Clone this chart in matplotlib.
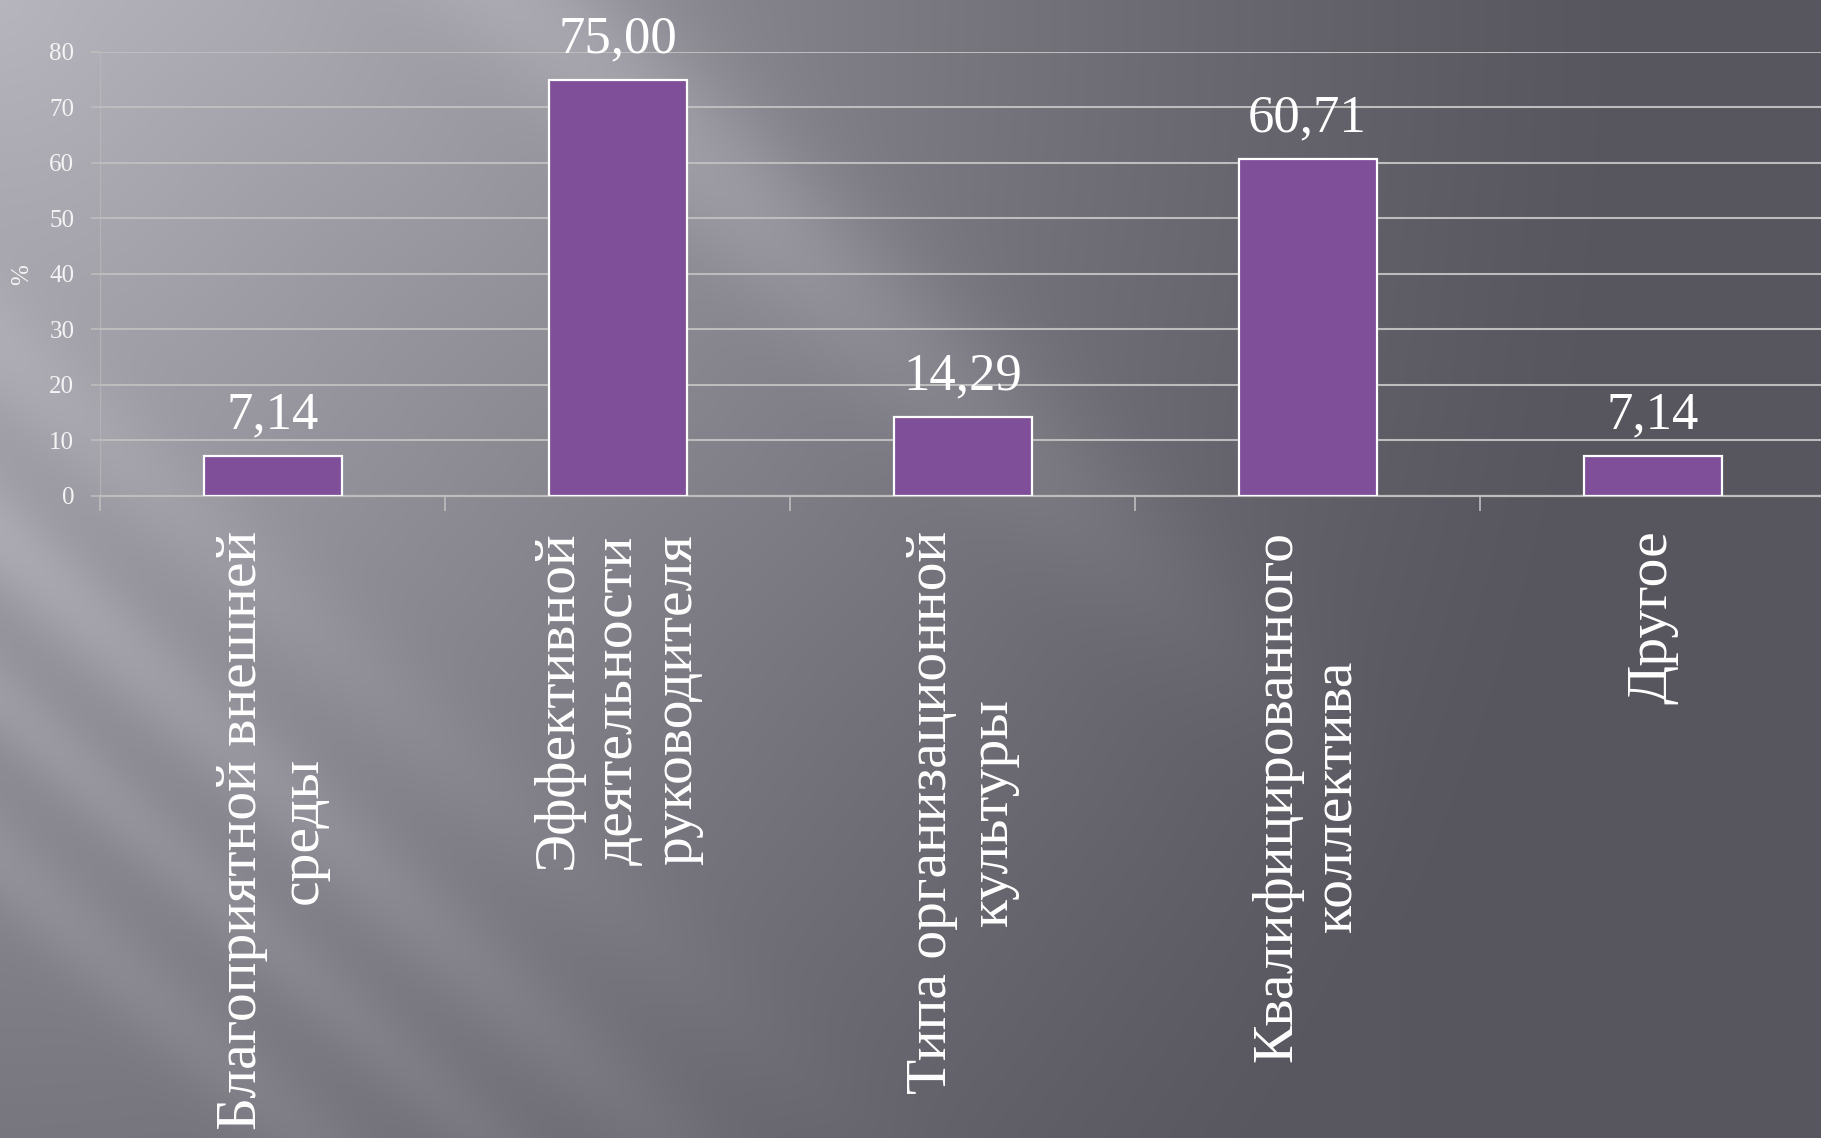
import numpy as np
import matplotlib
matplotlib.use('Agg')
import matplotlib.pyplot as plt

# ---- data ----
categories = ['Благоприятной внешней\nсреды',
              'Эффективной\nдеятельности\nруководителя',
              'Типа организационной\nкультуры',
              'Квалифицированного\nколлектива',
              'Другое']
values = [7.14, 75.00, 14.29, 60.71, 7.14]
value_labels = ['7,14', '75,00', '14,29', '60,71', '7,14']
y_ticks = [0, 10, 20, 30, 40, 50, 60, 70, 80]
y_label = '%'

W, H = 1821, 1138
FONT = 'Liberation Serif'
plt.rcParams['font.family'] = [FONT, 'DejaVu Serif']

fig = plt.figure(figsize=(W / 100, H / 100), dpi=100)

# ---- background (styling only) ----
bg = fig.add_axes([0, 0, 1, 1])
bg.axis('off')
yy, xx = np.mgrid[0:H, 0:W].astype(float)
d = np.sqrt((xx / 1600.0) ** 2 + (yy / 1900.0) ** 2)
L = 88 + 94 * np.clip(1 - d, 0, 1) ** 1.2
nrm = np.hypot(1, 0.9)
p = (yy - 0.9 * xx) / nrm
fadeA = np.clip(1 - (xx - 750) / 650.0, 0, 1)
L += 22 * np.exp(-((p + 349) / 75.0) ** 2) * fadeA
L += 8 * np.exp(-((p + 200) / 120.0) ** 2) * np.clip(1 - xx / 1300.0, 0, 1)
lowfade = np.clip(1 - xx / 1050.0, 0, 1)
L += 20 * np.exp(-((p - 400) / 45.0) ** 2) * lowfade
L += 15 * np.exp(-((p - 520) / 35.0) ** 2) * lowfade
L += 13 * np.exp(-((p - 640) / 40.0) ** 2) * lowfade
L += 12 * np.exp(-((p - 260) / 50.0) ** 2) * lowfade
img = np.dstack([L, L - 2, L + 6]) / 255.0
bg.imshow(np.clip(img, 0, 1), aspect='auto', extent=[0, 1, 0, 1], origin='upper')
bg.set_xlim(0, 1)
bg.set_ylim(0, 1)

# ---- chart ----
ax = fig.add_axes([100 / W, (H - 496) / H, 1725 / W, (496 - 52) / H])
ax.patch.set_alpha(0)
x = np.arange(len(categories))
grid_c = '#bdbdbd'
ax.bar(x, values, width=0.4, color='#7f4f99', edgecolor='white', linewidth=1.6, zorder=3)
ax.set_xlim(-0.5, len(categories) - 0.5)
ax.set_ylim(0, 80)
ax.set_yticks(y_ticks)
ax.set_yticklabels([str(t) for t in y_ticks], fontsize=18, color='#f4f4f4')
ax.yaxis.grid(True, color=grid_c, linewidth=1.5)
ax.set_axisbelow(True)
ax.tick_params(axis='y', length=6.5, width=1.2, color=grid_c, pad=12)

ax.set_xticks(np.arange(-0.5, len(categories), 1.0))
ax.set_xticklabels([])
ax.tick_params(axis='x', which='major', length=11, width=1.2, color=grid_c, direction='out')
ax.set_xticks(x, minor=True)
ax.set_xticklabels(categories, minor=True, rotation=90, fontsize=41.5, color='white',
                   multialignment='center', linespacing=1.2)
ax.tick_params(axis='x', which='minor', length=0, pad=25)

for s in ['top', 'right']:
    ax.spines[s].set_visible(False)
ax.spines['left'].set_color(grid_c)
ax.spines['left'].set_linewidth(1.0)
ax.spines['left'].set_alpha(0.6)
ax.spines['bottom'].set_color(grid_c)
ax.spines['bottom'].set_linewidth(1.6)

for xi, v, lbl in zip(x, values, value_labels):
    ax.annotate(lbl, (xi, v), xytext=(0, 20), textcoords='offset points',
                ha='center', va='baseline', fontsize=38, color='white')

fig.text(22 / W, 1 - 275 / H, y_label, rotation=90, ha='center', va='center',
         fontsize=18, color='#f4f4f4')

fig.savefig('out.png', dpi=100)
